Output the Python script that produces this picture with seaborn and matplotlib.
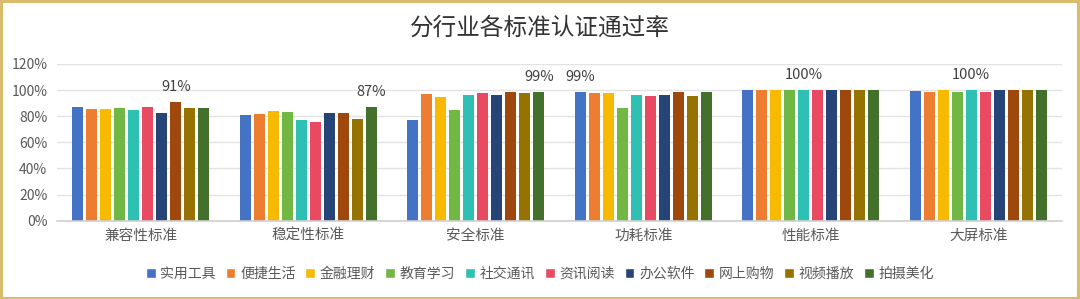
import numpy as np
import pandas as pd
import matplotlib
matplotlib.use("Agg")
import matplotlib.pyplot as plt
from matplotlib.patches import Rectangle
import seaborn as sns

categories = ["兼容性标准", "稳定性标准", "安全标准", "功耗标准", "性能标准", "大屏标准"]
series = ["实用工具", "便捷生活", "金融理财", "教育学习", "社交通讯",
          "资讯阅读", "办公软件", "网上购物", "视频播放", "拍摄美化"]
values = {
    "实用工具": [87.0, 81.0, 77.0, 98.5, 100, 99.2],
    "便捷生活": [85.2, 81.6, 96.7, 98.0, 100, 98.5],
    "金融理财": [85.2, 84.2, 94.6, 98.0, 100, 100],
    "教育学习": [86.2, 82.9, 84.7, 86.0, 100, 98.5],
    "社交通讯": [84.7, 77.0, 96.2, 96.2, 100, 100],
    "资讯阅读": [87.0, 75.8, 97.4, 95.4, 100, 98.5],
    "办公软件": [82.1, 82.1, 96.2, 96.2, 100, 100],
    "网上购物": [90.8, 82.1, 98.5, 98.5, 100, 100],
    "视频播放": [86.0, 77.8, 97.4, 95.4, 100, 100],
    "拍摄美化": [86.5, 86.7, 98.5, 98.5, 100, 100],
}
# which series carries the data label in each category, and the label text
label_series = ["网上购物", "拍摄美化", "拍摄美化", "实用工具", "社交通讯", "社交通讯"]
label_texts = ["91%", "87%", "99%", "99%", "100%", "100%"]
yticks = [0, 20, 40, 60, 80, 100, 120]
ytick_labels = ["0%", "20%", "40%", "60%", "80%", "100%", "120%"]
colors = ["#4472C4", "#ED7D31", "#F7BA00", "#70B843", "#2EC0B2",
          "#E84A62", "#264478", "#9E480E", "#967200", "#43702B"]

sns.set_theme(style="white")
plt.rcParams["font.family"] = ["Noto Sans CJK SC", "DejaVu Sans"]

rows = []
for s in series:
    for c, v in zip(categories, values[s]):
        rows.append({"cat": c, "series": s, "value": v})
df = pd.DataFrame(rows)

fig = plt.figure(figsize=(10.8, 2.99), dpi=100)
ax = fig.add_axes([0.0528, 0.262, 0.9305, 0.524])

sns.barplot(data=df, x="cat", y="value", hue="series", order=categories,
            hue_order=series, palette=colors, width=0.836, gap=0.234,
            saturation=1, ax=ax, legend=False, linewidth=0)

ax.set_ylim(0, 120)
ax.set_xlim(-0.5, len(categories) - 0.5)
ax.set_yticks(yticks)
ax.set_yticklabels(ytick_labels)
ax.yaxis.grid(True, color="#E3E3E3", linewidth=1)
ax.set_axisbelow(True)
for sp in ["top", "right", "left"]:
    ax.spines[sp].set_visible(False)
ax.spines["bottom"].set_color("#D0D0D0")
ax.spines["bottom"].set_linewidth(1.2)
ax.tick_params(axis="y", length=0, pad=7, labelsize=10, labelcolor="#595959")
ax.tick_params(axis="x", length=0, pad=6, labelsize=10.5, labelcolor="#595959")
ax.set_xlabel("")
ax.set_ylabel("")

for gi, (s, t) in enumerate(zip(label_series, label_texts)):
    si = series.index(s)
    bar = ax.containers[si][gi]
    x = bar.get_x() + bar.get_width() / 2
    y = bar.get_height()
    ax.annotate(t, (x, y), xytext=(0, 6), textcoords="offset points",
                ha="center", va="bottom", fontsize=10.5, color="#404040")

fig.text(0.5, 0.905, "分行业各标准认证通过率", ha="center", va="center",
         fontsize=17, color="#333333")

handles = [Rectangle((0, 0), 1, 1, facecolor=c) for c in colors]
fig.legend(handles, series, loc="center", bbox_to_anchor=(0.5, 0.085), ncol=10,
           frameon=False, fontsize=10, handlelength=0.7, handleheight=0.7,
           handletextpad=0.35, columnspacing=0.7, labelcolor="#595959")

fig.patches.append(Rectangle((0.001, 0.003), 0.997, 0.993, transform=fig.transFigure,
                             fill=False, edgecolor="#D8BC6C", linewidth=2.2))

fig.savefig("out.png", dpi=100, facecolor="white")
